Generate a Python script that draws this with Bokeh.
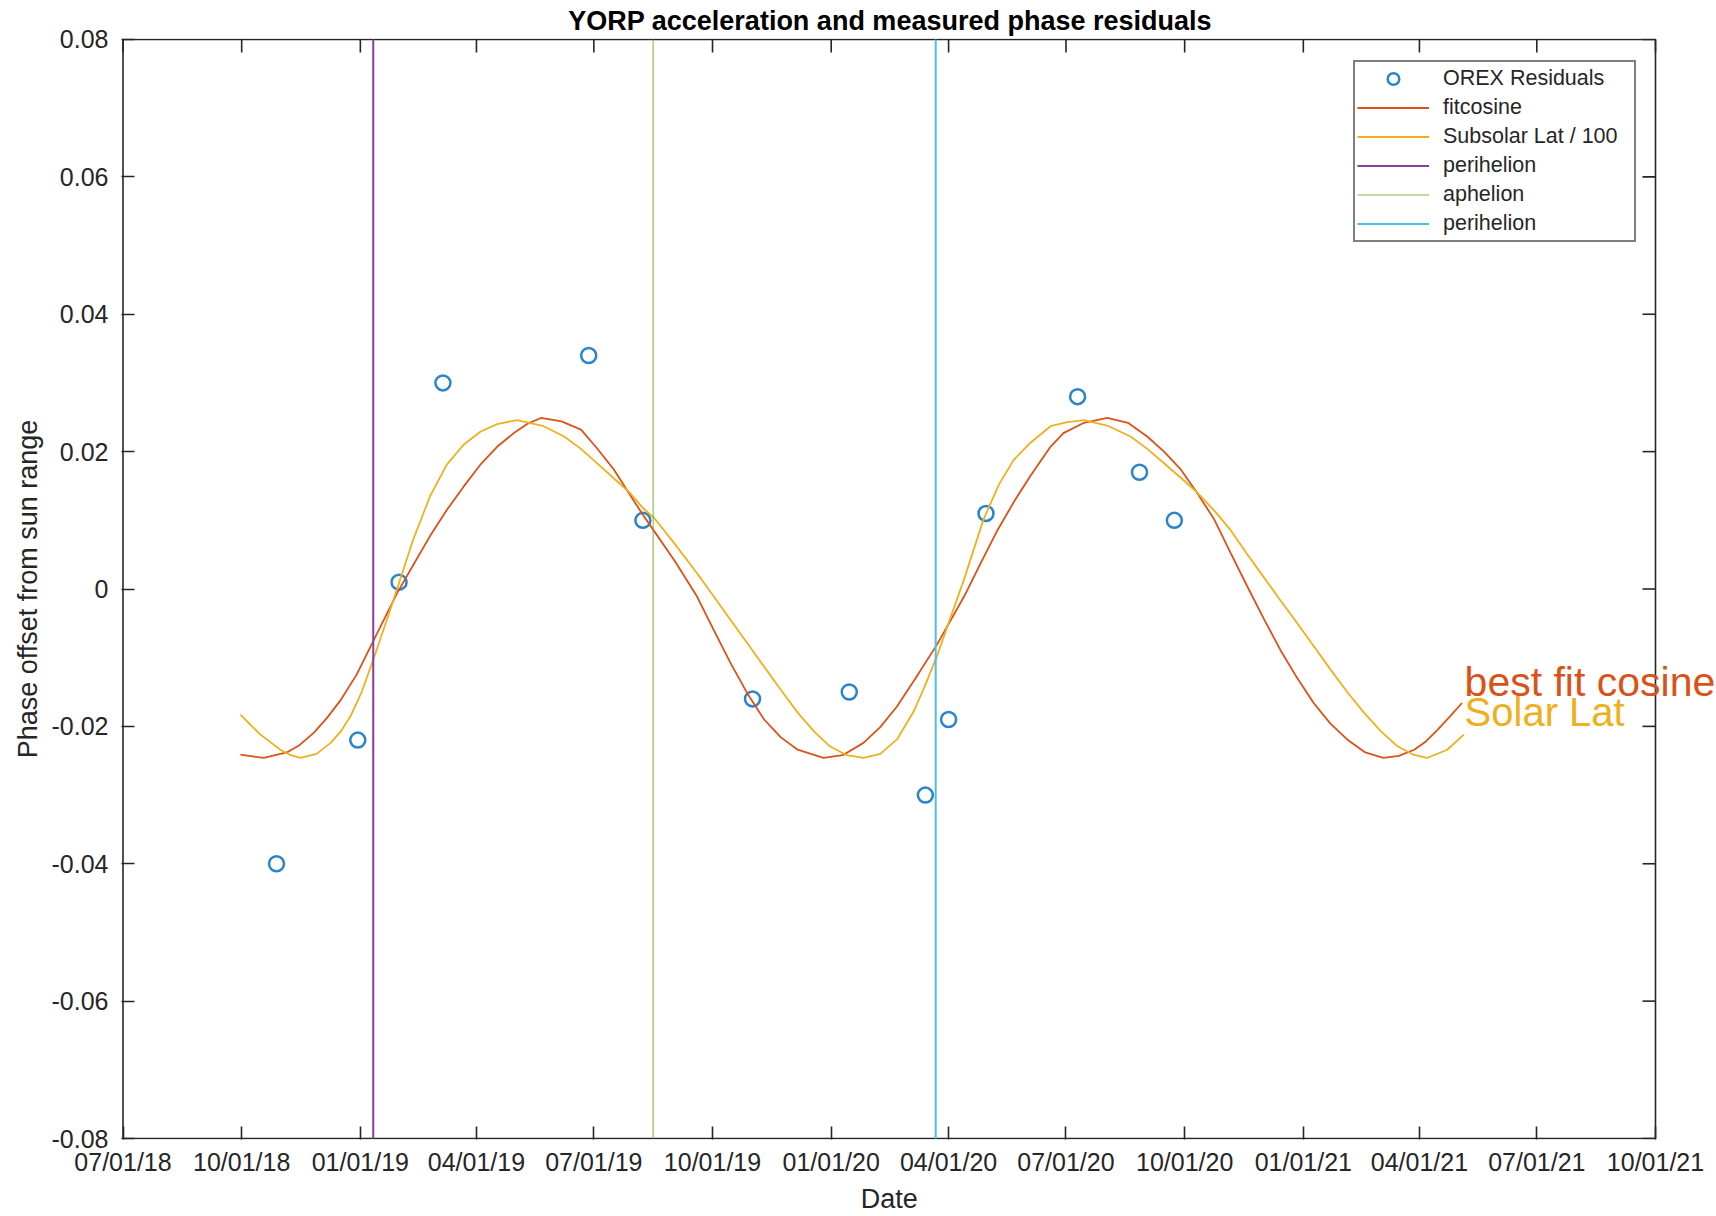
import math
import pandas as pd
from bokeh.plotting import figure
from bokeh.models import (Range1d, FixedTicker, DatetimeTickFormatter, CustomJSTickFormatter,
                          Legend, LegendItem, Label, Title)
from bokeh.embed import file_html
from bokeh.resources import INLINE

# Measured OREX phase residuals
resid_dates = ["2018-10-28", "2018-12-30", "2019-01-31", "2019-03-06", "2019-06-27",
               "2019-08-08", "2019-11-01", "2020-01-15", "2020-03-14", "2020-04-01",
               "2020-04-30", "2020-07-10", "2020-08-27", "2020-09-23"]
resid_vals = [-0.040, -0.022, 0.001, 0.030, 0.034, 0.010, -0.016, -0.015, -0.030,
              -0.019, 0.011, 0.028, 0.017, 0.010]

# Model curves, sampled in days after curve_t0
curve_t0 = "2018-07-01"

# Best-fit cosine
fit_days = [91, 109, 127, 137, 148, 158, 169, 181, 194, 212.5,
            225, 238, 251, 264, 277, 290, 303, 313, 324, 340,
            355, 367, 380.5, 392, 403, 411.5, 428, 445, 458, 471,
            484, 497, 510, 523, 543, 558, 574, 587, 600, 615,
            631, 652, 665, 678, 691, 703.5, 719, 729, 745, 763,
            779, 794, 807, 820, 833, 846, 858.5, 871.5, 884, 897,
            910, 923, 936, 949, 963, 977, 989, 1001, 1010, 1019,
            1028, 1038]
fit_vals = [-0.0241, -0.0246, -0.0238, -0.0227, -0.0209, -0.0188, -0.0161, -0.0125, -0.0076, -0.0006,
            0.0035, 0.0077, 0.0115, 0.0149, 0.0181, 0.0207, 0.0227, 0.0240, 0.0249, 0.0244,
            0.0232, 0.0206, 0.0174, 0.0140, 0.0108, 0.0085, 0.0040, -0.0011, -0.0060, -0.0108,
            -0.0152, -0.0190, -0.0216, -0.0234, -0.0246, -0.0242, -0.0224, -0.0201, -0.0171, -0.0128,
            -0.0081, -0.0011, 0.0038, 0.0086, 0.0128, 0.0165, 0.0207, 0.0227, 0.0242, 0.0249,
            0.0242, 0.0222, 0.0200, 0.0174, 0.0139, 0.0101, 0.0053, 0.0004, -0.0042, -0.0088,
            -0.0129, -0.0166, -0.0196, -0.0219, -0.0238, -0.0246, -0.0243, -0.0234, -0.0222, -0.0205,
            -0.0187, -0.0166]

# Subsolar latitude scaled by 1/100
lat_days = [91, 106.6, 122, 130, 137.6, 150, 161, 169, 176.4, 185,
            194, 204, 214, 225, 238, 251, 264, 277, 290, 305.6,
            326, 342, 355, 367.6, 380, 393, 403, 411.5, 428, 445,
            458, 471, 484, 497, 510, 523, 536, 548, 561, 574,
            587, 600, 613, 621, 631, 641, 652, 667, 679, 690.5,
            703.5, 719, 732, 745, 763, 781, 794, 807, 820, 833,
            846, 858.5, 871, 884, 897, 910, 923, 936, 949, 962,
            975, 988, 1000, 1011, 1026.5, 1039.4]
lat_vals = [-0.0183, -0.0212, -0.0234, -0.0242, -0.0246, -0.0240, -0.0224, -0.0207, -0.0185, -0.0150,
            -0.0103, -0.0048, 0.0009, 0.0072, 0.0135, 0.0181, 0.0210, 0.0229, 0.0240, 0.0246,
            0.0237, 0.0222, 0.0204, 0.0183, 0.0162, 0.0140, 0.0118, 0.0104, 0.0065, 0.0023,
            -0.0011, -0.0045, -0.0079, -0.0113, -0.0147, -0.0180, -0.0208, -0.0229, -0.0242, -0.0246,
            -0.0240, -0.0219, -0.0178, -0.0144, -0.0098, -0.0044, 0.0014, 0.0101, 0.0152, 0.0188,
            0.0213, 0.0237, 0.0243, 0.0246, 0.0238, 0.0222, 0.0204, 0.0183, 0.0162, 0.0140,
            0.0114, 0.0086, 0.0052, 0.0018, -0.0016, -0.0049, -0.0083, -0.0117, -0.0150, -0.0180,
            -0.0207, -0.0229, -0.0241, -0.0246, -0.0234, -0.0212]

# Orbit events
perihelion_1_date = "2019-01-11"
aphelion_date = "2019-08-16"
perihelion_2_date = "2020-03-22"

# Curve end annotations: (date, baseline value)
fit_label = ("2021-05-06", -0.0135)
lat_label = ("2021-05-06", -0.0179)

# Axes
x_tick_dates = ["2018-07-01", "2018-10-01", "2019-01-01", "2019-04-01", "2019-07-01",
                "2019-10-01", "2020-01-01", "2020-04-01", "2020-07-01", "2020-10-01",
                "2021-01-01", "2021-04-01", "2021-07-01", "2021-10-01"]
y_ticks = [-0.08, -0.06, -0.04, -0.02, 0, 0.02, 0.04, 0.06, 0.08]


def ms(s):
    return pd.Timestamp(s).timestamp() * 1000.0


def dt(seq):
    return pd.to_datetime(seq).to_numpy()


def days_to_dt(days):
    return (pd.Timestamp(curve_t0) + pd.to_timedelta(days, unit="D")).to_numpy()


FONT = "Liberation Sans"
AX = "#262626"
C_PTS = "#2a84cc"
C_FIT = "#D95319"
C_LAT = "#EDB120"
C_PERI1 = "#8a3d9e"
C_APH = "#77AC30"
C_PERI2 = "#4DBEEE"

W, H = 1716, 1216
BL, BT, BB = 121, 38, 76
BOX_W = 1532.5          # pixel width of the axes box
BOX_H = 1100.0          # pixel height of the axes box

x0, x1 = ms(x_tick_dates[0]), ms(x_tick_dates[-1])
y0, y1 = y_ticks[0], y_ticks[-1]
frame_w = W - BL
frame_h = H - BT - BB
px_x = (x1 - x0) / BOX_W
px_y = (y1 - y0) / BOX_H
pad_left = 1.5
pad_y = (frame_h - BOX_H) / 2.0

# The frame reaches the right edge of the page so the curve labels can run past the box
p = figure(width=W, height=H, x_axis_type="datetime",
           output_backend="svg", toolbar_location=None,
           x_range=Range1d(x0 - pad_left * px_x, x0 + (frame_w - pad_left) * px_x),
           y_range=Range1d(y0 - pad_y * px_y, y1 + pad_y * px_y),
           min_border_left=BL, min_border_right=0,
           min_border_top=BT, min_border_bottom=BB)
p.xgrid.visible = False
p.ygrid.visible = False
p.outline_line_color = None
p.background_fill_color = "white"
p.border_fill_color = "white"

# Title and x label are centred on the axes box, not on the wider frame
box_mid = pad_left + BOX_W / 2.0
p.add_layout(Title(text="YORP acceleration and measured phase residuals",
                   text_font=FONT, text_font_size="27px", text_font_style="bold",
                   text_color="#000000", align="left", offset=box_mid - 321,
                   standoff=6), "above")
p.add_layout(Title(text="Date", text_font=FONT, text_font_size="27px",
                   text_font_style="normal", text_color=AX, align="left",
                   offset=box_mid - 28.5, standoff=6), "below")

xt = FixedTicker(ticks=[ms(d) for d in x_tick_dates])
yt = FixedTicker(ticks=y_ticks)
fmt = "%m/%d/%y"
xfmt = DatetimeTickFormatter(microseconds=fmt, milliseconds=fmt, seconds=fmt, minsec=fmt,
                             minutes=fmt, hourmin=fmt, hours=fmt, days=fmt, months=fmt,
                             years=fmt, strip_leading_zeros=False)
yfmt = CustomJSTickFormatter(code="return tick == 0 ? '0' : tick.toFixed(2);")


def style_axis(ax):
    ax.major_tick_in = 13
    ax.major_tick_out = 0
    ax.minor_tick_line_color = None
    ax.major_tick_line_color = AX
    ax.major_tick_line_width = 1.6
    ax.axis_line_color = None
    ax.major_label_text_font = FONT
    ax.major_label_text_font_size = "25px"
    ax.major_label_text_color = AX
    ax.axis_label_text_font = FONT
    ax.axis_label_text_font_size = "27px"
    ax.axis_label_text_font_style = "normal"
    ax.axis_label_text_color = AX


xa = p.xaxis[0]
xa.ticker = xt
xa.formatter = xfmt
style_axis(xa)
xa.major_label_standoff = 8

ya = p.yaxis[0]
ya.ticker = yt
ya.formatter = yfmt
style_axis(ya)
ya.axis_label = "Phase offset from sun range"
ya.major_label_standoff = 13
ya.axis_label_standoff = 6

# Axes box and the inward ticks on its top and right sides
p.quad(left=[x0], right=[x1], bottom=[y0], top=[y1], fill_color=None,
       line_color=AX, line_width=1.6)
p.ray(x=[ms(d) for d in x_tick_dates], y=[y1] * len(x_tick_dates), length=13,
      length_units="screen", angle=-math.pi / 2, line_color=AX, line_width=1.6)
p.ray(x=[x1] * len(y_ticks), y=y_ticks, length=13, length_units="screen",
      angle=math.pi, line_color=AX, line_width=1.6)

r_pts = p.scatter(x=dt(resid_dates), y=resid_vals, marker="circle", size=15,
                  fill_color=None, line_color=C_PTS, line_width=2.5)
r_fit = p.line(x=days_to_dt(fit_days), y=fit_vals, line_color=C_FIT, line_width=1.8)
r_lat = p.line(x=days_to_dt(lat_days), y=lat_vals, line_color=C_LAT, line_width=1.8)

span_y = [y0, y1]
r_p1 = p.line(x=dt([perihelion_1_date] * 2), y=span_y, line_color=C_PERI1, line_width=2)
r_ap = p.line(x=dt([aphelion_date] * 2), y=span_y, line_color=C_APH, line_width=1.6,
              line_alpha=0.6)
r_p2 = p.line(x=dt([perihelion_2_date] * 2), y=span_y, line_color=C_PERI2, line_width=2)

legend = Legend(items=[
    LegendItem(label="OREX Residuals", renderers=[r_pts]),
    LegendItem(label="fitcosine", renderers=[r_fit]),
    LegendItem(label="Subsolar Lat / 100", renderers=[r_lat]),
    LegendItem(label="perihelion", renderers=[r_p1]),
    LegendItem(label="aphelion", renderers=[r_ap]),
    LegendItem(label="perihelion", renderers=[r_p2]),
], location=(1232, 897))
legend.label_text_font = FONT
legend.label_text_font_size = "21.5px"
legend.label_text_color = AX
legend.glyph_width = 72
legend.glyph_height = 29
legend.label_height = 20
legend.label_width = 189
legend.label_standoff = 14
legend.spacing = 0
legend.padding = 2
legend.margin = 0
legend.border_line_color = "#000000"
legend.border_line_width = 2
legend.background_fill_color = "white"
legend.background_fill_alpha = 1.0
p.add_layout(legend)

p.add_layout(Label(x=ms(fit_label[0]), y=fit_label[1], text="best fit cosine",
                   text_font=FONT, text_font_size="41px", text_color=C_FIT,
                   text_baseline="alphabetic", text_align="left"))
p.add_layout(Label(x=ms(lat_label[0]), y=lat_label[1], text="Solar Lat",
                   text_font=FONT, text_font_size="40px", text_color=C_LAT,
                   text_baseline="alphabetic", text_align="left"))

open("out.html", "w").write(file_html(p, INLINE))
